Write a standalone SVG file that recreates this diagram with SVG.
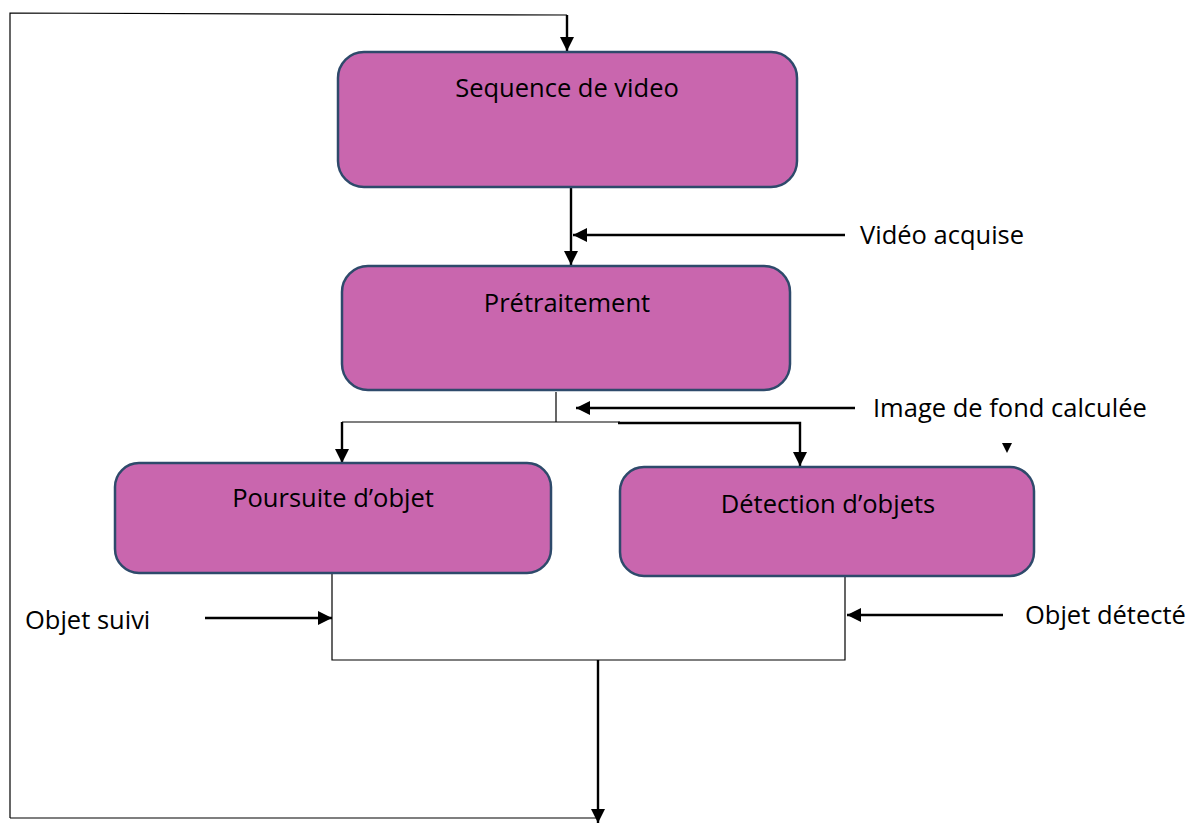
<svg xmlns="http://www.w3.org/2000/svg" width="1197" height="823" viewBox="0 0 1197 823">
<defs>
<marker id="ah" viewBox="0 0 14 14" refX="14" refY="7" markerWidth="14" markerHeight="14" markerUnits="userSpaceOnUse" orient="auto">
<path d="M0,0 L14,7 L0,14 Z" fill="#000"/>
</marker>
</defs>
<style>
.box{fill:#C966AE;stroke:#2E4A6B;stroke-width:2.5}
.t{font-family:"Open Sans","Liberation Sans",sans-serif;font-size:25.5px;fill:#000}
.thin{fill:none;stroke:#000;stroke-width:1.2}
.arr{fill:none;stroke:#000;stroke-width:2.4;marker-end:url(#ah)}
</style>
<rect width="1197" height="823" fill="#fff"/>
<g id="connectors">
<polyline class="thin" points="10,818 10,13 567,15"/>
<line class="arr" x1="567" y1="15" x2="567" y2="51"/>
<line class="arr" x1="571" y1="188" x2="571" y2="265"/>
<line class="arr" x1="845" y1="235" x2="573" y2="235"/>
<line class="thin" x1="556" y1="392" x2="556" y2="422"/>
<line class="thin" x1="342" y1="422" x2="620" y2="422"/>
<line class="arr" x1="855" y1="408" x2="576" y2="408"/>
<line class="arr" x1="342" y1="422" x2="342" y2="463"/>
<polyline class="arr" points="618,423 800,423 800,466"/>
<path d="M1002,443 L1012,443 L1007,453 Z" fill="#000"/>
<polyline class="thin" points="332,574 332,660 845,660 845,577"/>
<line class="arr" x1="205" y1="618" x2="332" y2="618"/>
<line class="arr" x1="1003" y1="615" x2="847" y2="615"/>
<polyline class="thin" points="10,818 598,818"/>
<line class="arr" x1="598" y1="660" x2="598" y2="823"/>
</g>
<g id="node-sequence">
<rect class="box" x="338" y="52" width="459" height="135" rx="26"/>
<text class="t" x="567" y="97" text-anchor="middle">Sequence de video</text>
</g>
<g id="node-pretraitement">
<rect class="box" x="342" y="266" width="448" height="124" rx="26"/>
<text class="t" x="567" y="312" text-anchor="middle">Prétraitement</text>
</g>
<g id="node-poursuite">
<rect class="box" x="115" y="463" width="436" height="110" rx="24"/>
<text class="t" x="333" y="507" text-anchor="middle">Poursuite d’objet</text>
</g>
<g id="node-detection">
<rect class="box" x="620" y="467" width="414" height="109" rx="24"/>
<text class="t" x="828" y="513" text-anchor="middle">Détection d’objets</text>
</g>
<g id="labels">
<text class="t" x="860" y="244">Vidéo acquise</text>
<text class="t" x="873" y="417">Image de fond calculée</text>
<text class="t" x="25" y="629">Objet suivi</text>
<text class="t" x="1025" y="624">Objet détecté</text>
</g>
</svg>
